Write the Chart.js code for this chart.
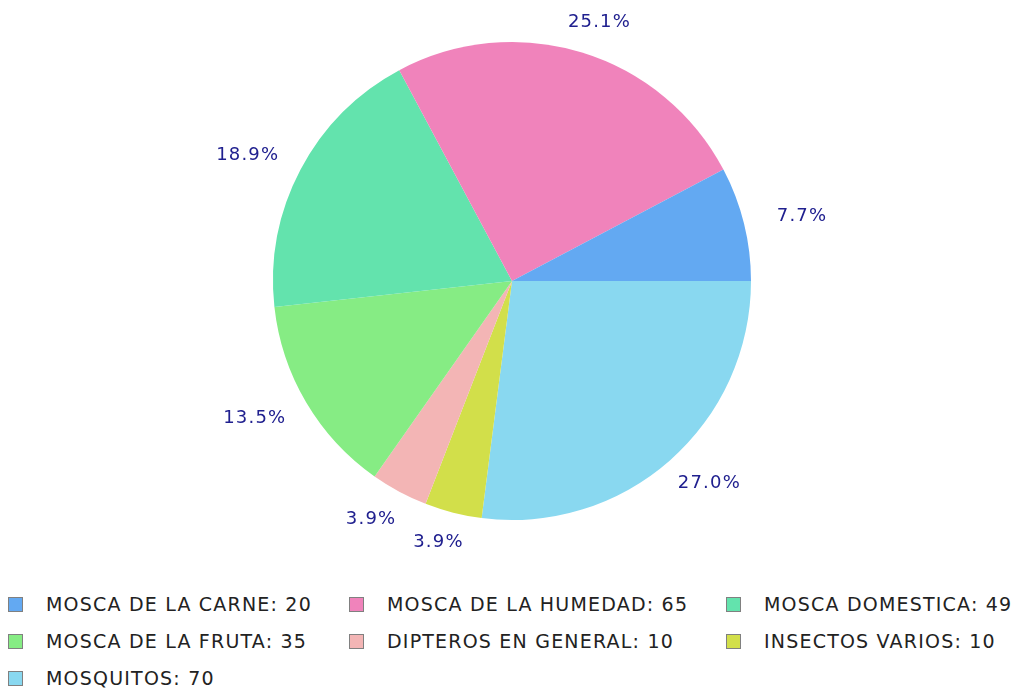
<!DOCTYPE html>
<html lang="es">
<head>
  <meta charset="UTF-8">
  <title>Insectos</title>
  <style>
    body {
      margin: 0;
      padding: 0;
      background: #ffffff;
      font-family: 'DejaVu Sans', sans-serif;
      width: 1016px;
      height: 690px;
      overflow: hidden;
      position: relative;
    }
    #chart-box {
      position: absolute;
      left: 0;
      top: 0;
      width: 1016px;
      height: 580px;
    }
    .legend-item {
      position: absolute;
      font-size: 19px;
      letter-spacing: 1.2px;
      color: #222222;
      white-space: nowrap;
      line-height: 20px;
    }
    .legend-item span.box {
      position: absolute;
      left: 0;
      top: 3px;
      width: 15px;
      height: 15px;
      border: 1px solid #808080;
      box-sizing: border-box;
    }
    .legend-item span.txt {
      position: absolute;
      left: 38px;
      top: 0;
    }
  </style>
  <script src="https://cdn.jsdelivr.net/npm/chart.js"></script>
</head>
<body>
  <div id="chart-box"><canvas id="pieChart"></canvas></div>
  <div id="legend"></div>
  <script>
    // datos (orden de la leyenda)
    const categories = ['MOSCA DE LA CARNE', 'MOSCA DE LA HUMEDAD', 'MOSCA DOMESTICA',
      'MOSCA DE LA FRUTA', 'DIPTEROS EN GENERAL', 'INSECTOS VARIOS', 'MOSQUITOS'];
    const values = [20, 65, 49, 35, 10, 10, 70];
    const colors = ['#63a9f2', '#f083bb', '#63e3ad', '#86ec84', '#f3b5b5', '#d2df4a', '#89d8f0'];

    const total = values.reduce((a, b) => a + b, 0);

    // el grafico original gira en sentido antihorario desde las 3 en punto,
    // asi que se invierte el orden para Chart.js (que gira en sentido horario)
    const chartLabels = categories.slice().reverse();
    const chartValues = values.slice().reverse();
    const chartColors = colors.slice().reverse();

    // etiquetas de porcentaje fuera del pastel, sobre una elipse
    const outsideLabels = {
      id: 'outsideLabels',
      afterDatasetsDraw(chart) {
        const ctx = chart.ctx;
        const meta = chart.getDatasetMeta(0);
        ctx.save();
        ctx.font = '18px "DejaVu Sans", sans-serif';
        ctx.letterSpacing = '1.2px';
        ctx.fillStyle = '#20208f';
        ctx.textAlign = 'center';
        ctx.textBaseline = 'middle';
        meta.data.forEach((arc, i) => {
          const p = arc.getProps(['x', 'y', 'startAngle', 'endAngle', 'outerRadius'], true);
          const mid = (p.startAngle + p.endAngle) / 2;
          const txt = (chartValues[i] / total * 100).toFixed(1) + '%';
          const rx = p.outerRadius * 1.25;
          const ry = p.outerRadius * 1.13;
          ctx.fillText(txt, p.x + Math.cos(mid) * rx, p.y + Math.sin(mid) * ry);
        });
        ctx.restore();
      }
    };

    new Chart(document.getElementById('pieChart'), {
      type: 'pie',
      data: {
        labels: chartLabels,
        datasets: [{
          data: chartValues,
          backgroundColor: chartColors,
          borderWidth: 0
        }]
      },
      options: {
        responsive: true,
        maintainAspectRatio: false,
        animation: false,
        rotation: 90,
        layout: { padding: { top: 42, bottom: 60, left: 8, right: 0 } },
        plugins: {
          legend: { display: false },
          tooltip: { enabled: false }
        }
      },
      plugins: [outsideLabels]
    });

    // leyenda en tres columnas
    const legendCols = [8, 349, 726];
    const legendRows = [594, 631, 668];
    const legend = document.getElementById('legend');
    categories.forEach((name, i) => {
      const item = document.createElement('div');
      item.className = 'legend-item';
      item.style.left = legendCols[i % 3] + 'px';
      item.style.top = legendRows[Math.floor(i / 3)] + 'px';
      item.innerHTML = '<span class="box" style="background:' + colors[i] + '"></span>' +
        '<span class="txt">' + name + ': ' + values[i] + '</span>';
      legend.appendChild(item);
    });
  </script>
</body>
</html>
